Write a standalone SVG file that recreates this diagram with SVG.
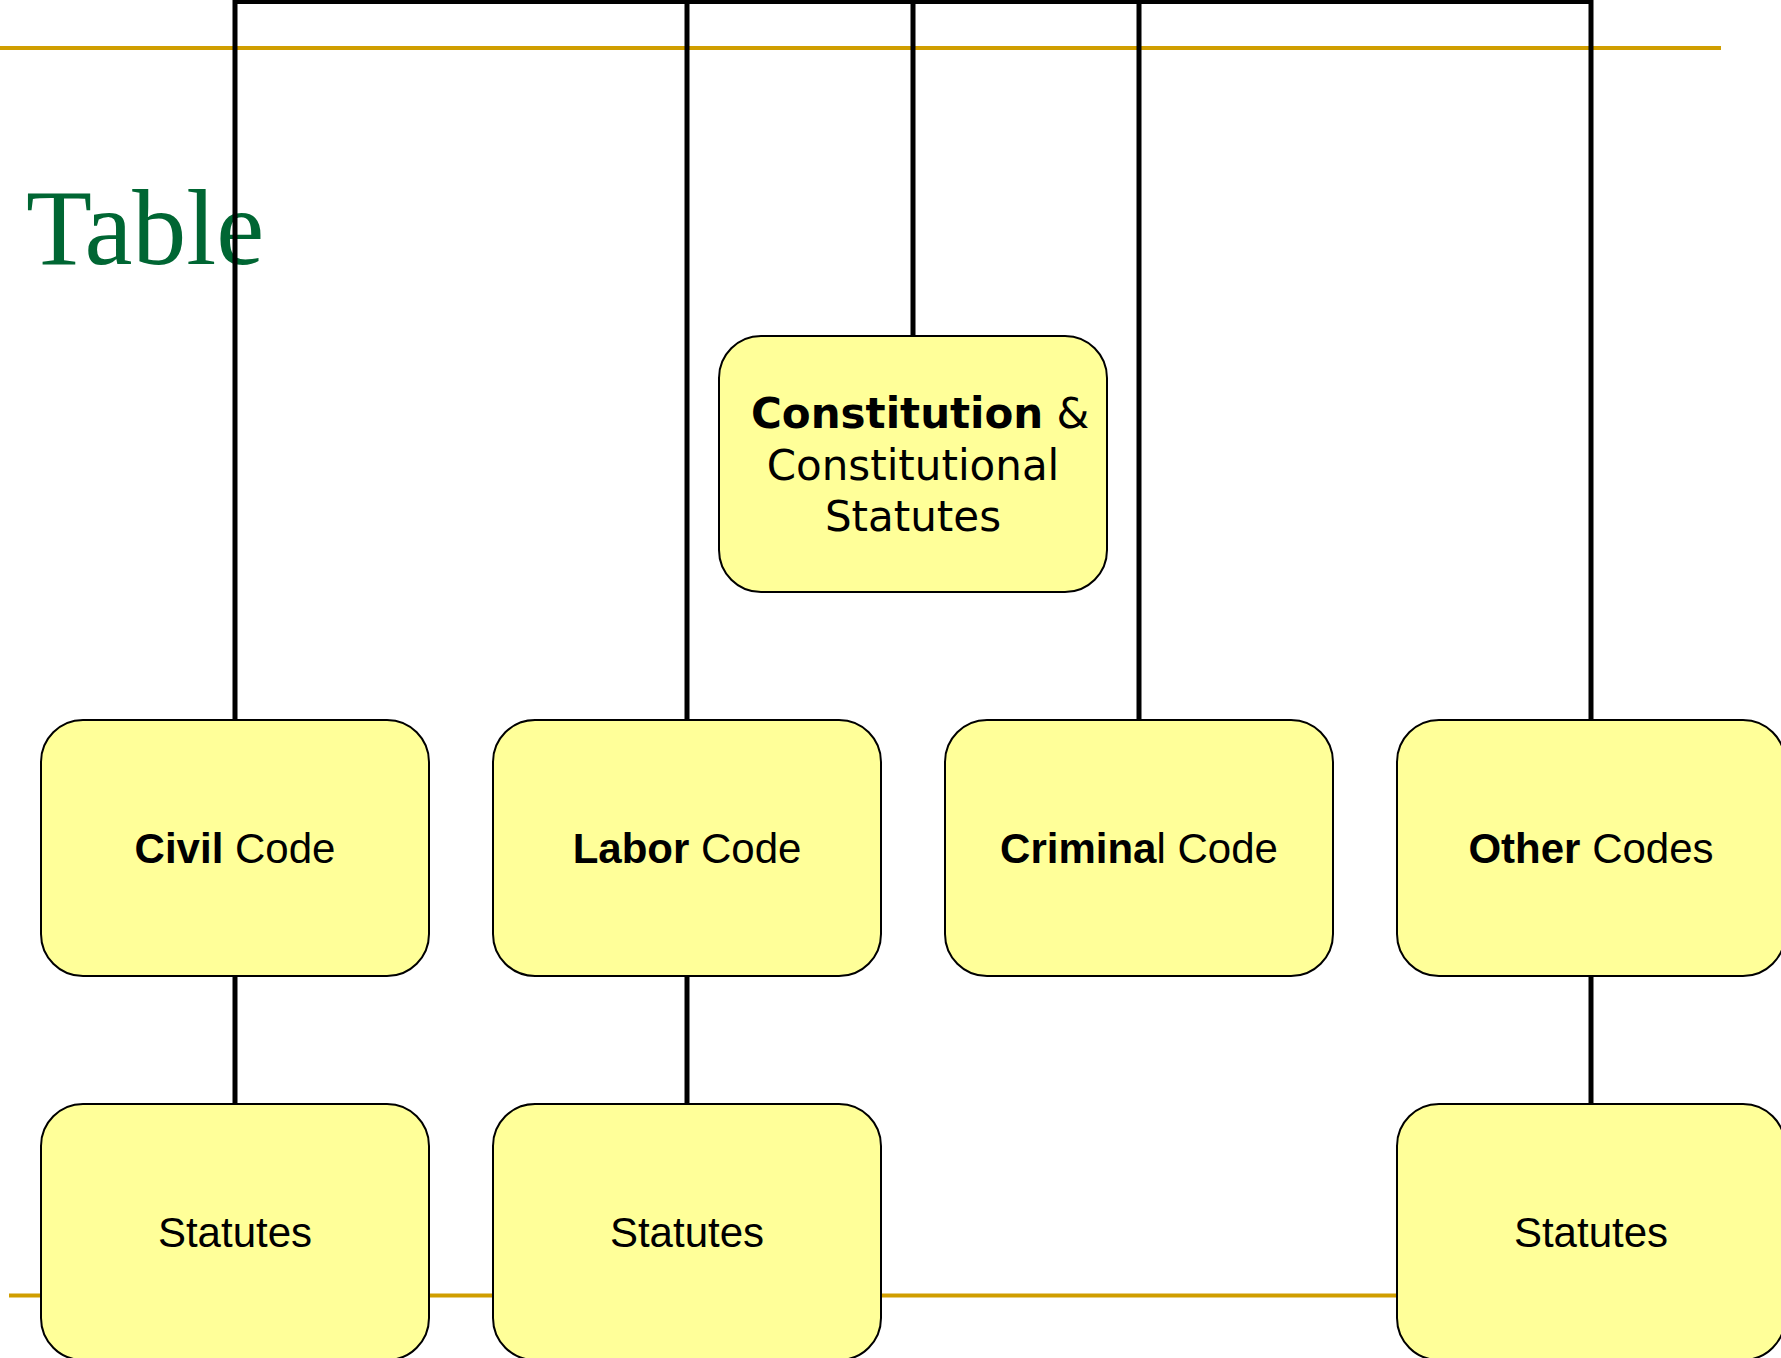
<svg xmlns="http://www.w3.org/2000/svg" width="1781" height="1358" viewBox="0 0 1781 1358">
<style>
.gold{stroke:#D09E00;stroke-width:4;fill:none}
.conn{stroke:#000;stroke-width:5;fill:none}
.box{fill:#FFFF99;stroke:#000;stroke-width:2}
.t1{font-family:"DejaVu Sans",Verdana,sans-serif;font-size:42px;fill:#000}
.t2{font-family:"Liberation Sans",Arial,sans-serif;font-size:42px;fill:#000;text-anchor:middle}
.b{font-weight:bold}
.title{font-family:"Liberation Serif","Times New Roman",serif;font-size:108px;fill:#006633}
</style>
<rect width="1781" height="1358" fill="#fff"/>
<g id="decor">
<line class="gold" x1="0" y1="48" x2="1721" y2="48"/>
<line class="gold" x1="9" y1="1295.5" x2="1721" y2="1295.5"/>
<text class="title" x="26" y="264">Table</text>
</g>
<g id="connectors">
<path class="conn" d="M235,720 V1.5 H1591 V720"/>
<line class="conn" x1="687" y1="1.5" x2="687" y2="720"/>
<line class="conn" x1="913" y1="1.5" x2="913" y2="336"/>
<line class="conn" x1="1139" y1="1.5" x2="1139" y2="720"/>
<line class="conn" x1="235" y1="976" x2="235" y2="1104"/>
<line class="conn" x1="687" y1="976" x2="687" y2="1104"/>
<line class="conn" x1="1591" y1="976" x2="1591" y2="1104"/>
</g>
<g id="constitution">
<rect class="box" x="719" y="336" width="388" height="256" rx="42"/>
<text class="t1" x="751" y="428"><tspan class="b">Constitution</tspan> &amp;</text>
<text class="t1" x="913" y="479.5" text-anchor="middle">Constitutional</text>
<text class="t1" x="913" y="531" text-anchor="middle">Statutes</text>
</g>
<g id="civil-code">
<rect class="box" x="41" y="720" width="388" height="256" rx="42"/>
<text class="t2" x="235" y="863"><tspan class="b">Civil</tspan> Code</text>
</g>
<g id="labor-code">
<rect class="box" x="493" y="720" width="388" height="256" rx="42"/>
<text class="t2" x="687" y="863"><tspan class="b">Labor</tspan> Code</text>
</g>
<g id="criminal-code">
<rect class="box" x="945" y="720" width="388" height="256" rx="42"/>
<text class="t2" x="1139" y="863"><tspan class="b">Crimina</tspan>l Code</text>
</g>
<g id="other-codes">
<rect class="box" x="1397" y="720" width="388" height="256" rx="42"/>
<text class="t2" x="1591" y="863"><tspan class="b">Other</tspan> Codes</text>
</g>
<g id="civil-statutes">
<rect class="box" x="41" y="1104" width="388" height="256" rx="42"/>
<text class="t2" x="235" y="1247">Statutes</text>
</g>
<g id="labor-statutes">
<rect class="box" x="493" y="1104" width="388" height="256" rx="42"/>
<text class="t2" x="687" y="1247">Statutes</text>
</g>
<g id="other-statutes">
<rect class="box" x="1397" y="1104" width="388" height="256" rx="42"/>
<text class="t2" x="1591" y="1247">Statutes</text>
</g>
</svg>
